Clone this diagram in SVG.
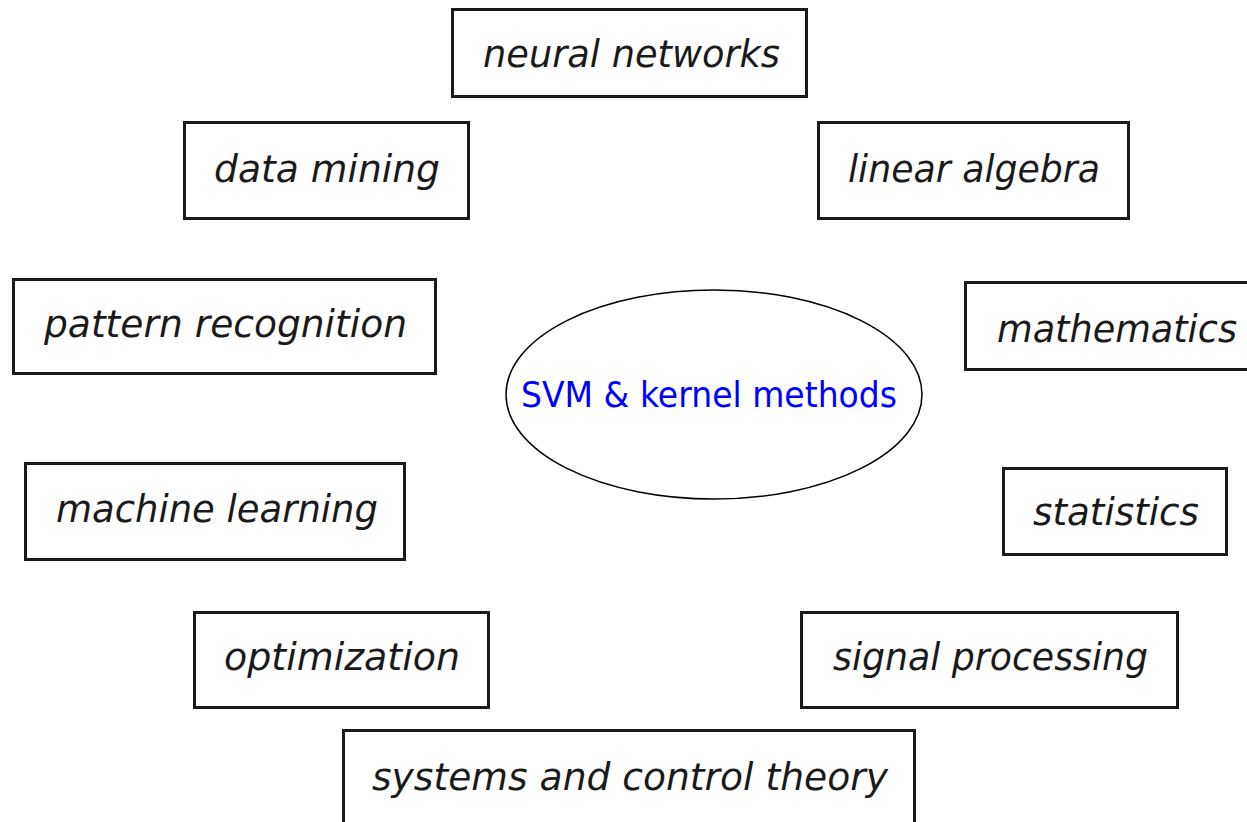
<svg xmlns="http://www.w3.org/2000/svg" width="1247" height="822" viewBox="0 0 1247 822">
<style>
.box{fill:#fff;stroke:#1a1a1a;stroke-width:3}
.lbl{font-family:"DejaVu Sans",sans-serif;font-style:oblique;font-size:37px;fill:#1a1a1a}
.ctr{font-family:"DejaVu Sans",sans-serif;font-size:36px;fill:#0000ff}
</style>
<rect width="1247" height="822" fill="#fff"/>
<g id="connectors"></g>
<g id="neural-networks"><rect class="box" x="452.5" y="9.5" width="354" height="87"/><text class="lbl" x="483" y="67" textLength="297" lengthAdjust="spacingAndGlyphs">neural networks</text></g>
<g id="data-mining"><rect class="box" x="184.5" y="122.5" width="284" height="96"/><text class="lbl" x="214" y="182" textLength="226" lengthAdjust="spacingAndGlyphs">data mining</text></g>
<g id="linear-algebra"><rect class="box" x="818.5" y="122.5" width="310" height="96"/><text class="lbl" x="848" y="182" textLength="252" lengthAdjust="spacingAndGlyphs">linear algebra</text></g>
<g id="pattern-recognition"><rect class="box" x="13.5" y="279.5" width="422" height="94"/><text class="lbl" x="44" y="337" textLength="363" lengthAdjust="spacingAndGlyphs">pattern recognition</text></g>
<g id="mathematics"><path class="box" d="M1260 282.5 H965.5 V369.5 H1260"/><text class="lbl" x="997" y="342" textLength="240" lengthAdjust="spacingAndGlyphs">mathematics</text></g>
<g id="svm"><ellipse cx="714" cy="394.5" rx="208" ry="104.5" fill="#fff" stroke="#000" stroke-width="1.5"/><text class="ctr" x="521" y="407" textLength="376" lengthAdjust="spacingAndGlyphs">SVM &amp; kernel methods</text></g>
<g id="machine-learning"><rect class="box" x="25.5" y="463.5" width="379" height="96"/><text class="lbl" x="56" y="522" textLength="322" lengthAdjust="spacingAndGlyphs">machine learning</text></g>
<g id="statistics"><rect class="box" x="1003.5" y="468.5" width="223" height="86"/><text class="lbl" x="1033" y="525" textLength="166" lengthAdjust="spacingAndGlyphs">statistics</text></g>
<g id="optimization"><rect class="box" x="194.5" y="612.5" width="294" height="95"/><text class="lbl" x="224" y="670" textLength="236" lengthAdjust="spacingAndGlyphs">optimization</text></g>
<g id="signal-processing"><rect class="box" x="801.5" y="612.5" width="376" height="95"/><text class="lbl" x="833" y="670" textLength="315" lengthAdjust="spacingAndGlyphs">signal processing</text></g>
<g id="systems-control"><path class="box" d="M343.5 830 V730.5 H914.5 V830"/><text class="lbl" x="372" y="790" textLength="516" lengthAdjust="spacingAndGlyphs">systems and control theory</text></g>
</svg>
